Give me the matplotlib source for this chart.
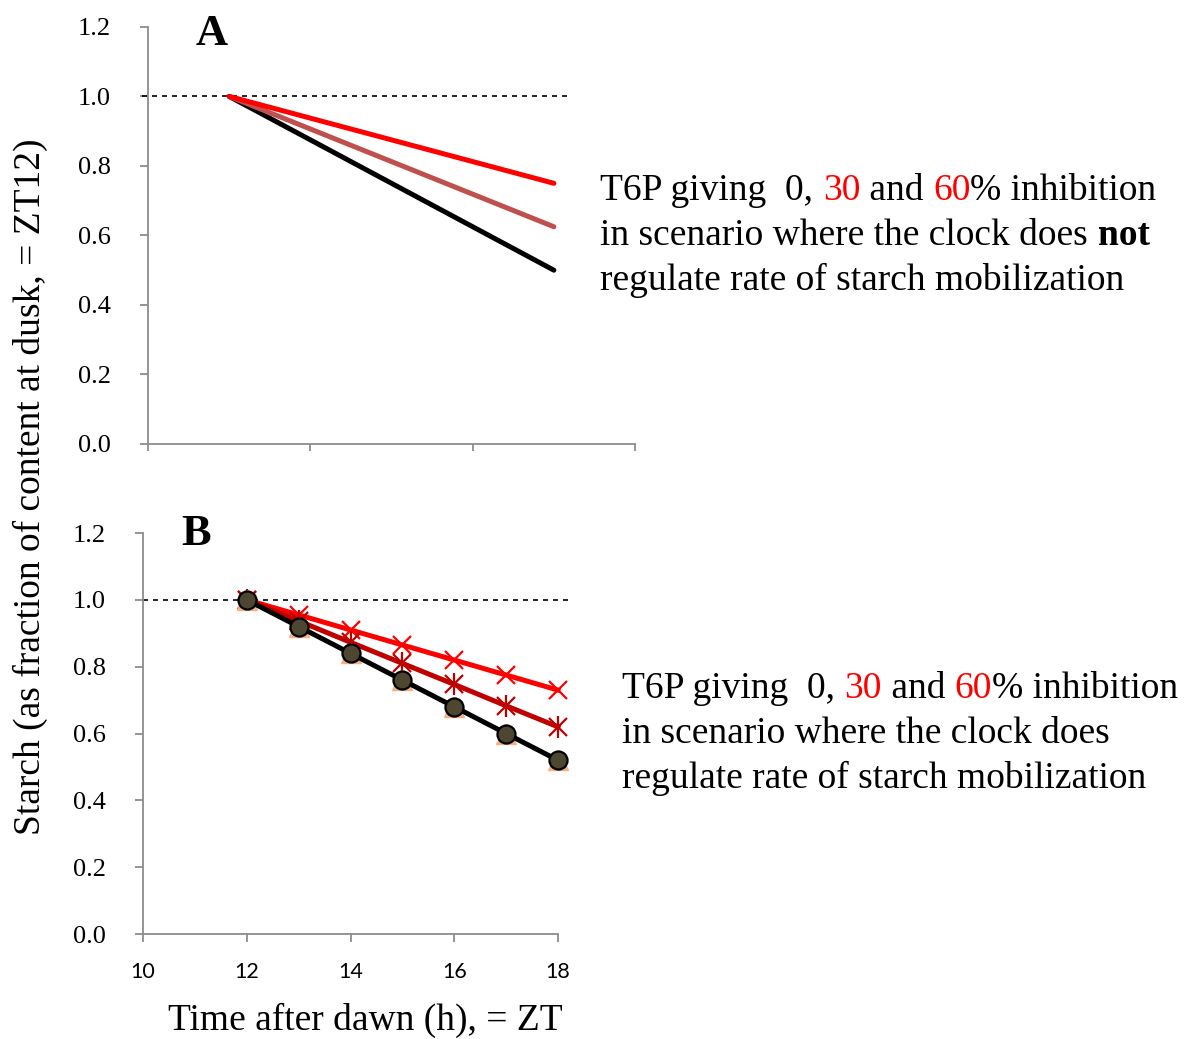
import matplotlib
matplotlib.use("Agg")
import matplotlib.pyplot as plt

# starch remaining (fraction of dusk content)
a_x = [0.5, 2.5]
a_inh0 = [1.0, 0.50]
a_inh30 = [1.0, 0.625]
a_inh60 = [1.0, 0.75]

b_hours = [12, 13, 14, 15, 16, 17, 18]
b_inh0 = [1.0, 0.92, 0.84, 0.76, 0.68, 0.60, 0.52]
b_inh30 = [1.0, 0.937, 0.873, 0.81, 0.747, 0.683, 0.62]
b_inh60 = [1.0, 0.955, 0.91, 0.865, 0.82, 0.775, 0.73]

y_ticks = [0.0, 0.2, 0.4, 0.6, 0.8, 1.0, 1.2]
b_x_ticks = [10, 12, 14, 16, 18]

SERIF = "Liberation Serif"
AXIS_GREY = "#8c8c8c"
RED = "#ff0000"
DARK_RED = "#c00000"
BROWN_RED = "#c0504d"

plt.rcParams["font.family"] = [SERIF, "DejaVu Serif"]

fig = plt.figure(figsize=(11.89, 10.39), dpi=100)
ax_a = fig.add_axes([0.1245, 0.5727, 0.4096, 0.4014])
ax_b = fig.add_axes([0.1203, 0.101, 0.349, 0.386])


def style_axes(ax):
    for side in ("top", "right"):
        ax.spines[side].set_visible(False)
    for side in ("left", "bottom"):
        ax.spines[side].set_color(AXIS_GREY)
        ax.spines[side].set_linewidth(1.3)
    ax.tick_params(color=AXIS_GREY, width=1.3, length=6, direction="out")
    ax.set_ylim(0, 1.2)
    ax.set_yticks(y_ticks)
    ax.set_yticklabels([f"{v:.1f}" for v in y_ticks])
    ax.tick_params(axis="y", pad=21, labelsize=19)


# --- panel A
style_axes(ax_a)
ax_a.set_xlim(0, 3)
ax_a.set_xticks([0, 1, 2, 3])
ax_a.set_xticklabels([])
ax_a.tick_params(axis="x", length=5)
ax_a.plot([-0.04, 2.6], [1.0, 1.0], ls=(0, (3, 3)), color="black", lw=1.2, clip_on=False)
ax_a.plot(a_x, a_inh0, color="black", lw=3.6, solid_capstyle="round")
ax_a.plot(a_x, a_inh30, color=BROWN_RED, lw=3.6, solid_capstyle="round")
ax_a.plot(a_x, a_inh60, color=RED, lw=3.6, solid_capstyle="round")

# --- panel B
style_axes(ax_b)
ax_b.set_xlim(10, 18)
ax_b.set_xticks(b_x_ticks)
ax_b.set_xticklabels([str(v) for v in b_x_ticks])
ax_b.tick_params(axis="x", pad=14, labelsize=15.5)
for lbl in ax_b.get_xticklabels():
    lbl.set_fontfamily("Lato")
ax_b.plot([10, 18.28], [1.0, 1.0], ls=(0, (3, 3)), color="black", lw=1.2, clip_on=False)

ax_b.plot(b_hours, b_inh60, color=RED, lw=3.6, marker="x", ms=13, mew=1.6, clip_on=False)
ax_b.plot(b_hours, b_inh30, color=DARK_RED, lw=3.6, marker="x", ms=13, mew=1.6, clip_on=False)
ax_b.plot(b_hours, b_inh30, ls="none", color=DARK_RED, marker="|", ms=16, mew=1.6, clip_on=False)
ax_b.plot(b_hours, b_inh0, ls="none", marker="^", ms=14, color="#f4b183", clip_on=False)
ax_b.plot(b_hours, b_inh0, color="black", lw=3.6, marker="o", ms=13,
          mfc="#4d4731", mec="black", mew=1.6, clip_on=False)

# --- labels
fig.text(0.0252, 0.532, "Starch (as fraction of content at dusk, = ZT12)", rotation=90,
         ha="center", va="center", fontsize=27)
fig.text(0.307, 0.0087, "Time after dawn (h), = ZT", ha="center", va="baseline",
         fontsize=27)
fig.text(0.178, 0.9567, "A", ha="center", va="baseline", fontsize=32, fontweight="bold")
fig.text(0.165, 0.4755, "B", ha="center", va="baseline", fontsize=32, fontweight="bold")

renderer = fig.canvas.get_renderer()


def rich_line(x, y, pieces):
    # draw text segments one after another on a shared baseline
    for text, color, weight in pieces:
        t = fig.text(x, y, text, color=color, fontweight=weight,
                     fontsize=27, ha="left", va="baseline")
        bb = t.get_window_extent(renderer)
        x += bb.width / fig.bbox.width


def note_block(x, y, middle_line):
    line_step = 45 / 1039
    rich_line(x, y, [("T6P giving  0, ", "black", "normal"), ("30", RED, "normal"),
                     (" and ", "black", "normal"), ("60", RED, "normal"),
                     ("% inhibition", "black", "normal")])
    rich_line(x, y - line_step, middle_line)
    rich_line(x, y - 2 * line_step, [("regulate rate of starch mobilization", "black", "normal")])


note_block(0.505, 1 - 200 / 1039,
           [("in scenario where the clock does ", "black", "normal"), ("not", "black", "bold")])
note_block(0.523, 1 - 698 / 1039,
           [("in scenario where the clock does", "black", "normal")])

fig.savefig("out.png", dpi=100)
